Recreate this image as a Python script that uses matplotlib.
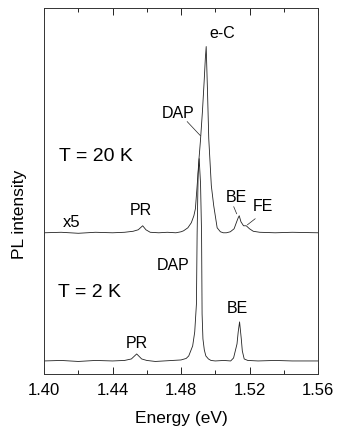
import matplotlib
matplotlib.use("Agg")
from matplotlib import pyplot as plt
from matplotlib.ticker import MultipleLocator

plt.rcParams['font.family'] = ['Liberation Sans', 'DejaVu Sans']

# PL spectrum at T = 20 K (x5, offset upward); energy in eV, intensity in arb. units
energy_20K = [1.400, 1.410, 1.420, 1.430, 1.440, 1.447, 1.452, 1.455, 1.4576, 1.4595,
              1.462, 1.467, 1.472, 1.477, 1.480, 1.4815, 1.4840, 1.4860, 1.4875, 1.4884,
              1.4895, 1.4905, 1.4913, 1.4925, 1.4935, 1.4942, 1.4947, 1.4955, 1.4962,
              1.4977, 1.4991, 1.5011, 1.5030, 1.5047, 1.5065, 1.5088, 1.5110, 1.5125,
              1.5134, 1.5140, 1.5150, 1.5165, 1.5181, 1.5200, 1.5222, 1.5260, 1.5350,
              1.5450, 1.5600]
pl_20K = [141, 141.5, 140.5, 141.5, 141, 141.5, 142.5, 144, 148, 144,
          141.5, 141, 141.5, 141, 142, 143, 146, 151, 158, 165,
          190, 215, 232, 262, 292, 315, 327, 280, 235,
          188, 168, 146, 142, 141, 141, 142, 145, 152,
          156, 158, 152, 148, 148, 145, 142.5, 141.5, 141,
          141.5, 141]

# PL spectrum at T = 2 K
energy_2K = [1.400, 1.410, 1.420, 1.430, 1.440, 1.447, 1.451, 1.4541, 1.457, 1.460,
             1.465, 1.470, 1.475, 1.480, 1.4830, 1.4845, 1.4868, 1.4880, 1.4890,
             1.4894, 1.4900, 1.4906, 1.4914, 1.4920, 1.4923, 1.4928, 1.4936, 1.4945,
             1.4960, 1.4975, 1.5000, 1.5050, 1.5090, 1.5107, 1.5127, 1.5134, 1.5142,
             1.5152, 1.5158, 1.5169, 1.5190, 1.5250, 1.5350, 1.5450, 1.5600]
pl_2K = [13, 13.5, 12.5, 13.5, 13, 13.5, 15, 20, 15, 13.5,
         12.5, 13, 13.5, 14, 15.5, 18, 28, 42, 70,
         140, 200, 215, 190, 140, 60, 35, 24, 18,
         15, 13.5, 13, 13.5, 13, 16, 30, 42, 52,
         35, 23, 15, 13.5, 13, 13.5, 13, 13]

# peak labels: text, energy, intensity
labels = ["e-C", "DAP", "PR", "BE", "FE", "DAP", "PR", "BE"]
label_E = [1.5041, 1.4783, 1.4564, 1.5123, 1.5280, 1.4753, 1.4544, 1.5129]
label_I = [341, 261, 164, 177, 168, 109, 31, 66]

fig = plt.figure(figsize=(3.39, 4.31), dpi=100)
ax = fig.add_axes([0.130, 0.130, 0.808, 0.848])

ax.plot(energy_20K, pl_20K, color='#222222', lw=0.6)
ax.plot(energy_2K, pl_2K, color='#222222', lw=0.6)

for t, e, i in zip(labels, label_E, label_I):
    ax.text(e, i, t, fontsize=11.5, ha='center', va='center')

# pointer lines
ax.plot([1.4836, 1.4913], [252, 238], color='#222222', lw=0.5)
ax.plot([1.5108, 1.5125], [167, 160], color='#222222', lw=0.5)
ax.plot([1.5233, 1.5188], [155, 149], color='#222222', lw=0.5)

ax.text(1.4089, 218, "T = 20 K", fontsize=14, ha='left', va='center')
ax.text(1.4083, 82, "T = 2 K", fontsize=14, ha='left', va='center')
ax.text(1.4110, 152, "x5", fontsize=12, ha='left', va='center')

ax.set_xlim(1.40, 1.56)
ax.set_ylim(0, 365)
ax.xaxis.set_major_locator(MultipleLocator(0.04))
ax.xaxis.set_minor_locator(MultipleLocator(0.02))
ax.xaxis.set_major_formatter(matplotlib.ticker.FormatStrFormatter('%.2f'))
ax.tick_params(axis='x', which='both', direction='in', top=True, labelsize=12, pad=6)
ax.tick_params(axis='x', which='major', length=5, width=0.6)
ax.tick_params(axis='x', which='minor', length=3, width=0.6)
ax.set_yticks([])
for s in ax.spines.values():
    s.set_linewidth(0.7)
    s.set_color('#333333')

ax.set_xlabel("Energy (eV)", fontsize=12.5, labelpad=9)
fig.text(0.058, 0.503, "PL intensity", fontsize=12.5, rotation=90, ha='center', va='center')

fig.savefig("out.png", dpi=100)
